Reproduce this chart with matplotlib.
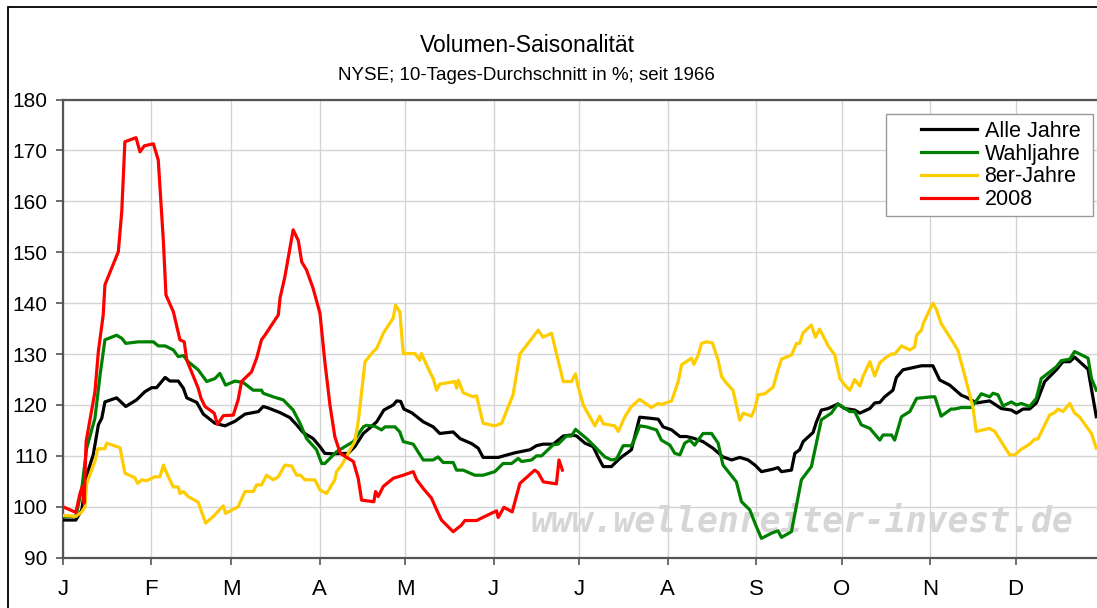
import matplotlib
matplotlib.use('Agg')
import matplotlib.pyplot as plt
from matplotlib.patches import Rectangle

# Monatsanfaenge (Tag im Jahr) und Beschriftung
month_days = [0, 31, 59, 90, 120, 151, 181, 212, 243, 273, 304, 334]
month_labels = ['J', 'F', 'M', 'A', 'M', 'J', 'J', 'A', 'S', 'O', 'N', 'D']

# Alle Jahre
alle_days = [0, 4.5, 6.6, 8.3, 10.6, 12.4, 13.6, 14.7, 18.8, 22.0, 25.8, 28.7, 31.1, 32.8, 35.8,
             37.5, 40.4, 42.2, 43.4, 46.9, 49.2, 53.3, 56.8, 60.3, 63.8, 68.5, 70.2, 72.0, 76.1,
             79.6, 81.9, 84.2, 87.7, 90.1, 91.8, 94.7, 100.0, 102.3, 105.3, 107.6, 110.0, 112.5,
             115.8, 117.0, 118.4, 119.5, 122.2, 126.3, 129.8, 132.1, 136.8, 139.2, 143.3, 145.6,
             147.3, 152.6, 158.4, 163.7, 166.0, 168.3, 171.9, 175.4, 178.3, 180.1, 183.0, 185.9,
             187.6, 189.4, 192.3, 195.2, 199.3, 202.2, 205.7, 208.7, 210.4, 213.4, 216.3, 218.6,
             220.9, 224.4, 227.9, 231.4, 234.4, 237.3, 240.2, 242.6, 244.9, 249.0, 250.7, 251.9,
             255.4, 256.6, 258.3, 259.5, 263.0, 264.2, 265.9, 268.3, 271.7, 274.1, 277.6, 279.4,
             282.9, 284.6, 286.4, 288.1, 291.0, 292.2, 294.5, 298.6, 301.0, 305.0, 307.4, 310.9,
             315.0, 316.8, 320.3, 324.9, 329.0, 332.5, 334.3, 336.6, 338.9, 341.3, 344.2, 348.3,
             350.6, 353.0, 354.7, 359.4, 362.3]
alle_vals = [97.4, 97.4, 99.4, 106.2, 110.2, 116.1, 117.4, 120.6, 121.4, 119.7, 121.0, 122.6, 123.4,
             123.4, 125.4, 124.7, 124.7, 123.3, 121.4, 120.5, 118.2, 116.4, 115.9, 116.8, 118.2,
             118.7, 119.7, 119.4, 118.5, 117.5, 116.1, 114.6, 113.4, 111.8, 110.5, 110.4, 110.5,
             111.8, 114.4, 115.5, 116.7, 119.0, 120.0, 120.8, 120.7, 119.2, 118.5, 116.7, 115.7,
             114.4, 114.7, 113.4, 112.4, 111.5, 109.7, 109.7, 110.6, 111.2, 112.0, 112.3, 112.3,
             113.9, 114.1, 113.9, 112.5, 111.8, 109.8, 107.9, 107.9, 109.5, 111.2, 117.6, 117.4,
             117.2, 115.7, 115.1, 113.8, 113.8, 113.5, 112.8, 111.5, 109.8, 109.2, 109.7, 109.2,
             108.2, 106.9, 107.4, 107.7, 106.9, 107.2, 110.5, 111.2, 112.8, 114.6, 116.7, 119.0,
             119.3, 120.2, 119.3, 119.0, 118.4, 119.3, 120.4, 120.5, 121.6, 122.9, 125.4, 126.9,
             127.4, 127.7, 127.7, 124.9, 123.9, 121.9, 121.5, 120.4, 120.8, 119.3, 119.0, 118.4,
             119.2, 119.2, 120.4, 124.6, 126.9, 128.5, 128.5, 129.4, 127.0, 117.7]

# Wahljahre
wahl_days = [0, 4.5, 6.6, 8.3, 11.2, 13.0, 14.7, 18.8, 20.6, 22.0, 26.4, 31.7, 33.4, 35.8, 38.7,
             40.4, 42.2, 43.9, 47.4, 50.4, 53.3, 55.0, 57.0, 60.3, 63.2, 66.7, 69.6, 70.2, 73.7,
             77.2, 80.7, 83.1, 85.4, 88.9, 90.7, 91.8, 95.9, 98.8, 101.8, 105.3, 106.4, 109.4,
             111.7, 112.9, 116.4, 118.1, 119.3, 122.8, 126.3, 129.8, 131.5, 133.3, 136.8, 138.0,
             140.3, 144.4, 147.3, 151.4, 154.3, 157.3, 159.6, 160.8, 164.3, 166.0, 167.8, 171.9,
             173.6, 176.5, 178.3, 179.7, 183.6, 186.5, 188.2, 190.0, 192.3, 194.1, 196.4, 199.3,
             200.5, 202.2, 204.6, 208.1, 209.8, 212.8, 214.5, 216.3, 218.0, 219.8, 221.5, 222.7,
             224.4, 227.4, 229.7, 231.4, 236.1, 237.9, 240.8, 243.1, 244.9, 248.4, 250.7, 251.9,
             255.4, 258.9, 262.4, 265.9, 269.4, 271.7, 275.9, 277.6, 279.9, 282.9, 286.4, 287.5,
             290.5, 291.6, 294.0, 296.9, 299.3, 304.5, 305.7, 307.9, 311.4, 312.6, 315.0, 318.5,
             322.0, 324.9, 326.1, 327.8, 329.6, 332.5, 334.3, 336.0, 338.9, 341.3, 343.0, 348.3,
             350.0, 353.0, 354.7, 359.4, 360.6, 362.3]
wahl_vals = [98.1, 98.1, 103.6, 111.5, 117.4, 125.9, 132.8, 133.7, 133.1, 132.1, 132.4, 132.4,
             131.6, 131.6, 130.8, 129.5, 129.7, 128.5, 126.9, 124.6, 125.2, 126.2, 123.9, 124.7,
             124.4, 122.9, 122.9, 122.3, 121.6, 121.0, 119.0, 116.4, 113.4, 111.2, 108.5, 108.5,
             110.8, 111.8, 112.8, 115.7, 116.0, 115.8, 115.1, 115.7, 115.7, 114.7, 112.8, 112.3,
             109.2, 109.2, 109.8, 108.7, 108.7, 107.2, 107.2, 106.2, 106.2, 106.9, 108.5, 108.5,
             109.5, 108.9, 109.2, 110.0, 110.0, 112.2, 112.3, 113.9, 113.9, 115.2, 113.4, 111.8,
             110.8, 109.8, 109.2, 109.4, 112.0, 112.0, 113.4, 115.9, 115.7, 115.1, 113.1, 112.1,
             110.5, 110.2, 112.5, 113.1, 112.1, 113.1, 114.4, 114.4, 112.5, 108.2, 104.9, 101.0,
             99.4, 96.1, 93.8, 94.8, 95.3, 94.0, 95.1, 105.3, 107.9, 117.1, 118.4, 120.2, 118.7,
             118.7, 116.1, 115.4, 113.1, 114.1, 114.1, 113.1, 117.7, 118.7, 121.3, 121.6, 121.6,
             117.8, 119.2, 119.2, 119.5, 119.5, 122.2, 121.6, 122.3, 122.0, 119.8, 120.6, 120.0,
             120.3, 119.7, 121.3, 125.2, 127.5, 128.7, 129.0, 130.5, 129.2, 125.2, 122.9]

# 8er-Jahre
acht_days = [0, 4.5, 6.6, 7.7, 8.3, 11.2, 12.2, 14.7, 15.3, 20.0, 21.7, 25.2, 26.2, 27.6, 29.3,
             32.2, 34.0, 35.2, 36.9, 38.7, 40.4, 41.0, 42.2, 43.9, 47.4, 50.0, 52.7, 56.2, 57.0,
             61.4, 63.8, 66.7, 67.9, 69.6, 71.4, 73.7, 75.5, 77.8, 80.2, 81.9, 83.3, 84.8, 88.3,
             90.1, 92.4, 95.3, 95.9, 97.7, 100.0, 102.3, 103.5, 104.7, 105.9, 108.8, 110.0, 112.3,
             115.8, 116.6, 118.1, 119.3, 123.4, 125.1, 125.7, 128.0, 129.8, 131.0, 132.1, 137.4,
             138.0, 138.6, 140.3, 143.8, 145.0, 147.3, 151.4, 153.8, 157.8, 160.2, 166.6, 168.3,
             171.3, 173.6, 175.4, 178.3, 179.7, 180.6, 182.4, 186.5, 188.2, 189.4, 193.5, 194.7,
             197.0, 199.3, 202.2, 206.3, 208.7, 209.8, 213.4, 215.7, 216.9, 220.4, 221.2, 222.7,
             223.9, 225.6, 227.7, 229.7, 230.9, 232.6, 234.9, 237.3, 238.5, 241.4, 242.6, 243.7,
             246.1, 249.0, 250.7, 251.9, 255.4, 257.2, 258.3, 259.5, 262.4, 263.8, 265.3, 268.3,
             270.6, 272.4, 274.1, 275.9, 277.6, 279.4, 280.5, 282.9, 284.6, 286.4, 288.7, 290.5,
             291.6, 294.0, 296.9, 298.6, 299.3, 301.0, 301.6, 305.0, 306.2, 307.9, 312.0, 313.7,
             315.5, 319.0, 320.2, 324.9, 326.7, 331.9, 333.7, 336.0, 338.9, 340.7, 341.8, 345.9,
             347.7, 348.9, 350.6, 353.0, 354.7, 356.5, 360.6, 362.3]
acht_vals = [98.3, 98.1, 99.0, 100.0, 104.6, 108.9, 111.4, 111.4, 112.5, 111.6, 106.6, 105.7,
             104.6, 105.3, 105.1, 105.9, 105.9, 108.2, 105.9, 103.9, 103.9, 102.6, 103.0, 102.0,
             100.9, 96.8, 98.1, 100.2, 98.7, 100.0, 103.0, 103.0, 104.3, 104.3, 106.2, 105.3,
             105.9, 108.2, 108.0, 106.2, 106.2, 105.3, 105.3, 103.3, 102.6, 105.3, 106.9, 108.2,
             110.5, 112.8, 116.7, 122.6, 128.5, 130.5, 131.1, 134.1, 137.1, 139.6, 138.3, 130.1,
             130.1, 128.8, 130.1, 127.2, 125.2, 122.9, 124.1, 124.6, 123.3, 124.9, 122.4, 121.6,
             121.8, 116.4, 115.9, 116.4, 122.0, 130.0, 134.7, 133.3, 134.1, 128.8, 124.6, 124.6,
             126.1, 123.6, 120.0, 115.9, 117.8, 116.3, 115.9, 114.8, 117.7, 119.7, 121.1, 119.5,
             120.3, 120.1, 120.8, 124.6, 127.9, 129.2, 128.0, 129.8, 132.1, 132.4, 132.2, 128.8,
             125.6, 124.3, 122.9, 117.0, 118.4, 117.8, 119.3, 122.0, 122.2, 123.5, 126.9, 129.0,
             129.8, 132.1, 132.1, 134.2, 135.7, 133.3, 134.9, 131.6, 129.8, 125.2, 123.9, 122.9,
             125.0, 123.7, 125.6, 128.5, 125.7, 128.3, 129.4, 130.0, 130.0, 131.6, 130.8, 131.4,
             133.7, 134.7, 136.0, 140.0, 138.8, 136.0, 132.4, 130.8, 127.2, 119.7, 114.8, 115.4,
             114.8, 110.2, 110.2, 111.3, 112.3, 113.3, 113.3, 118.0, 118.5, 119.2, 118.7, 120.3,
             118.4, 117.6, 114.4, 111.5]

# 2008
j2008_days = [0, 4.5, 6.0, 6.9, 7.4, 8.1, 11.2, 12.4, 14.1, 14.7, 19.4, 20.6, 21.7, 25.6, 27.0,
              28.5, 31.7, 33.4, 35.2, 36.1, 38.7, 41.0, 42.5, 43.4, 47.4, 48.4, 49.8, 53.0, 54.2,
              56.2, 59.7, 61.4, 62.6, 66.1, 67.9, 69.6, 70.8, 75.5, 76.1, 77.8, 80.7, 82.5, 83.7,
              85.4, 87.7, 90.1, 91.8, 93.6, 95.3, 97.2, 101.8, 103.5, 104.7, 109.0, 109.6, 110.5,
              112.3, 115.8, 119.3, 122.8, 124.0, 126.3, 129.2, 131.0, 132.7, 136.8, 139.7, 140.9,
              145.0, 147.9, 152.0, 152.6, 154.6, 157.5, 160.2, 165.4, 166.6, 168.4, 173.0, 173.9,
              175.1]
j2008_vals = [100.0, 98.9, 102.7, 104.1, 100.7, 112.8, 122.6, 130.5, 137.7, 143.6, 150.1, 158.0,
              171.7, 172.5, 169.7, 170.9, 171.3, 168.1, 152.1, 141.6, 138.3, 132.8, 132.4, 128.8,
              123.3, 121.3, 119.7, 118.4, 116.2, 117.9, 118.0, 121.0, 124.6, 126.5, 129.2, 132.8,
              133.7, 137.7, 141.0, 145.2, 154.4, 152.3, 148.1, 146.5, 142.9, 138.0, 128.5, 120.0,
              113.8, 110.5, 108.9, 105.6, 101.3, 101.0, 103.0, 102.0, 104.0, 105.6, 106.2, 106.9,
              105.3, 103.6, 101.7, 99.4, 97.4, 95.1, 96.4, 97.3, 97.3, 98.1, 99.2, 97.9, 99.9,
              99.0, 104.6, 107.2, 106.7, 104.9, 104.5, 109.2, 107.2]

W, H = 1097, 608
fig = plt.figure(figsize=(W / 100, H / 100), dpi=100)
ax = fig.add_axes([63 / W, 50.3 / H, 1041 / W, 458.2 / H])

ax.text(0.449, 0.078, 'www.wellenreiter-invest.de', transform=ax.transAxes, color='#d6d6d6',
        fontsize=25, family='DejaVu Sans Mono', style='oblique', weight='bold',
        ha='left', va='center', zorder=1)

lw = 2.3
ax.plot(alle_days, alle_vals, color='black', lw=lw, label='Alle Jahre', zorder=3)
ax.plot(wahl_days, wahl_vals, color='#008000', lw=lw, label='Wahljahre', zorder=4)
ax.plot(acht_days, acht_vals, color='#FFCC00', lw=lw, label='8er-Jahre', zorder=5)
ax.plot(j2008_days, j2008_vals, color='#FF0000', lw=lw, label='2008', zorder=6)

ax.set_xlim(0, 365)
ax.set_ylim(90, 180)
ax.set_yticks(range(90, 181, 10))
ax.set_xticks(month_days)
ax.set_xticklabels(month_labels)
ax.grid(True, color='#d4d4d4', lw=1.0, zorder=0)
ax.set_axisbelow(True)
for s in ['left', 'bottom', 'top']:
    ax.spines[s].set_color('#555555')
    ax.spines[s].set_linewidth(1.6)
ax.spines['right'].set_visible(False)
ax.tick_params(axis='y', direction='out', length=5, width=1.2, color='#555555',
               labelsize=15, pad=6)
ax.tick_params(axis='x', direction='out', length=5, width=1.2, color='#555555',
               labelsize=16, pad=10)
for lab in ax.get_xticklabels() + ax.get_yticklabels():
    lab.set_family('Liberation Sans')

fig.text(527 / W, 1 - 45 / H, 'Volumen-Saisonalität', ha='center', va='center', fontsize=16.5,
         family='Liberation Sans')
fig.text(526 / W, 1 - 75 / H, 'NYSE; 10-Tages-Durchschnitt in %; seit 1966', ha='center',
         va='center', fontsize=13.5, family='Liberation Sans')

# Legende ohne eigenen Rahmen, Rahmen separat (als Achsen-Patch, unter der Legende)
ax.add_patch(Rectangle((886 / W, 1 - 216 / H), 207 / W, 102 / H, transform=fig.transFigure,
                       facecolor='white', ec='#999999', lw=1.0, zorder=9, clip_on=False))
leg = ax.legend(loc='upper left', bbox_to_anchor=(921 / W, 1 - 121 / H),
                bbox_transform=fig.transFigure, frameon=False,
                prop={'family': 'Liberation Sans', 'size': 15.5}, handlelength=2.6,
                handletextpad=0.35, labelspacing=0.08, borderpad=0, borderaxespad=0)
leg.set_zorder(10)

fig.add_artist(Rectangle((8 / W, -0.5), 2, 1.5 - 7 / H, transform=fig.transFigure,
                         fill=False, ec='black', lw=1.3))

fig.savefig('out.png', dpi=100)
